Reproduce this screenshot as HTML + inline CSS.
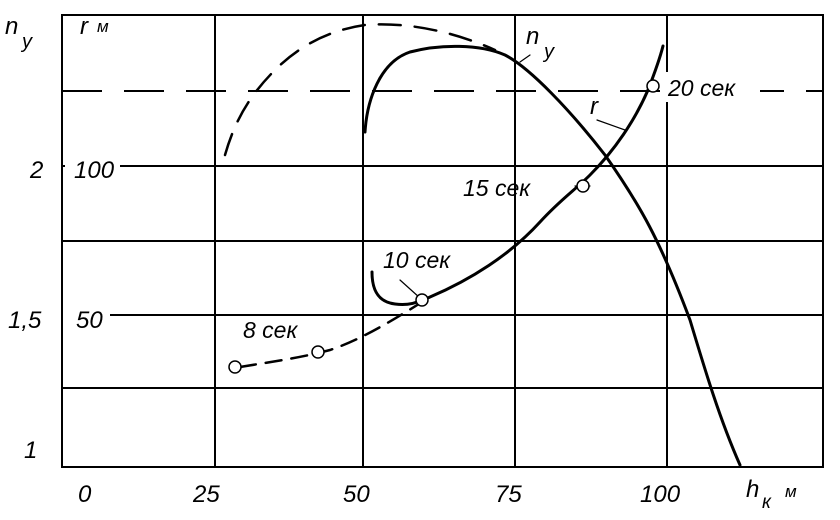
<!DOCTYPE html>
<html><head><meta charset="utf-8"><style>
html,body{margin:0;padding:0;background:#fff}
svg text{font-family:"Liberation Sans",sans-serif;font-style:italic;fill:#000}
</style></head><body>
<svg width="840" height="515" viewBox="0 0 840 515" xmlns="http://www.w3.org/2000/svg">
<g stroke="#000" stroke-width="2" fill="none">
<path d="M62 15 H823 V467 H62 Z"/>
<path d="M215 15V467M363 15V467M515 15V467M667 15V467"/>
<path d="M62 166H70M120 166H823M62 241H823M110 315H823M62 388H823"/>
<path d="M62 91H823" stroke-dasharray="40,22"/>
</g>
<rect x="65" y="150" width="50" height="30" fill="#fff"/>
<rect x="65" y="300" width="44" height="30" fill="#fff"/>
<rect x="660" y="72" width="100" height="30" fill="#fff"/>
<g fill="none" stroke="#000" stroke-linecap="round">
<path d="M365 132 C367 100,380 62,410 52 C440 44,480 44,505 55 C530 68,570 110,605 155 C640 205,660 240,690 320 C705 370,720 420,740 465" stroke-width="3"/>
<path d="M225 155 C235 120,250 95,275 70 C300 45,330 30,365 25 C405 22,450 30,495 50" stroke-width="2.5" stroke-dasharray="22,14"/>
<path d="M372 272 C372 290,378 302,395 304 C410 306,418 302,430 297 C470 280,510 255,540 222 C560 200,575 190,590 175 C615 150,635 120,648 90 C655 72,660 58,663 46" stroke-width="3"/>
<path d="M240 367 C270 362,300 358,330 350 C360 340,390 322,422 302" stroke-width="2.5" stroke-dasharray="16,10"/>
<path d="M520 62 L530 55M597 120 L625 130M575 186 L590 186M400 280 L420 298" stroke-width="1.2"/>
</g>
<g fill="#fff" stroke="#000" stroke-width="1.5">
<circle cx="235" cy="367" r="6"/><circle cx="318" cy="352" r="6"/><circle cx="422" cy="300" r="6"/><circle cx="583" cy="186" r="6"/><circle cx="653" cy="86" r="6"/>
</g>
<g font-size="24">
<text x="5" y="34">n</text><text x="22" y="48" font-size="20">y</text>
<text x="80" y="34">r</text><text x="97" y="32" font-size="17">м</text>
<text x="30" y="178">2</text><text x="74" y="178">100</text>
<text x="8" y="328">1,5</text><text x="76" y="328">50</text>
<text x="24" y="458">1</text>
<text x="78" y="502">0</text><text x="193" y="502">25</text><text x="343" y="502">50</text><text x="495" y="502">75</text><text x="640" y="502">100</text>
<text x="746" y="497">h</text><text x="762" y="508" font-size="19">к</text><text x="785" y="497" font-size="17">м</text>
<text x="526" y="44">n</text><text x="544" y="58" font-size="20">y</text>
<text x="590" y="114">r</text>
<text x="668" y="96" font-size="23">20 сек</text>
<text x="463" y="196" font-size="23">15 сек</text>
<text x="383" y="268" font-size="23">10 сек</text>
<text x="243" y="338" font-size="23">8 сек</text>
</g>
</svg>
</body></html>
